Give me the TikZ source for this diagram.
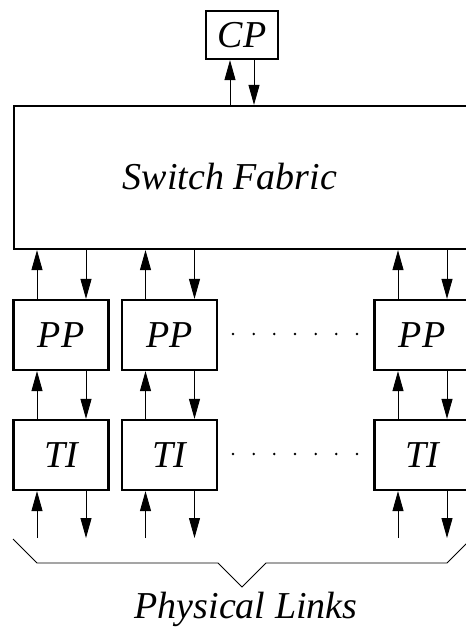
\documentclass[tikz,border=0pt]{standalone}
\usepackage{fontspec}
\setmainfont{Liberation Serif}[ItalicFont={Liberation Serif Italic}]
\newfontfamily\figfont{Liberation Serif Italic}
\usetikzlibrary{arrows.meta}
\begin{document}
\begin{tikzpicture}[x=1pt,y=-1pt,
  box/.style={draw, line width=2.2pt, inner sep=0pt, minimum width=95pt, minimum height=70pt,
    font=\fontsize{38}{40}\selectfont\figfont},
  arr/.style={line width=0.9pt, -{Triangle[length=20pt,width=11pt]}},
  bracepath/.style={line width=0.9pt},
  lbl/.style={font=\fontsize{38}{40}\selectfont\figfont, inner sep=0pt}]
\useasboundingbox (0,0) rectangle (465,628);
% boxes
\node[box, minimum width=72pt, minimum height=48pt] (cp) at (242,35) {CP};
\node[box, minimum width=456pt, minimum height=143pt] (sf) at (242,177.5) {};
\node[lbl, anchor=base] (sftext) at (230,190) {Switch Fabric};
\node[box] (pp1) at (61,335) {PP};
\node[box] (pp2) at (169.5,335) {PP};
\node[box] (pp3) at (422,335) {PP};
\node[box] (ti1) at (61,455) {TI};
\node[box] (ti2) at (169.5,455) {TI};
\node[box] (ti3) at (422,455) {TI};
% dots
\foreach \x in {233,253.7,274.3,295,315.7,336.3,357} {
  \fill (\x,334) circle (1.4pt);
  \fill (\x,454) circle (1.4pt);
}
% CP arrows
\draw[arr] ([xshift=-12pt]cp.south |- sf.north) -- ([xshift=-12pt]cp.south);
\draw[arr] ([xshift=12pt]cp.south) -- ([xshift=12pt]cp.south |- sf.north);
% base coordinate for physical links
\coordinate (base) at (0,538);
\foreach \n in {1,2,3} {
  \draw[arr] ([xshift=-24pt]pp\n.north) -- ([xshift=-24pt]pp\n.north |- sf.south);
  \draw[arr] ([xshift=25pt]pp\n.north |- sf.south) -- ([xshift=25pt]pp\n.north);
  \draw[arr] ([xshift=-24pt]ti\n.north) -- ([xshift=-24pt]pp\n.south);
  \draw[arr] ([xshift=25pt]pp\n.south) -- ([xshift=25pt]ti\n.north);
  \draw[arr] ([xshift=-24pt]ti\n.south |- base) -- ([xshift=-24pt]ti\n.south);
  \draw[arr] ([xshift=25pt]ti\n.south) -- ([xshift=25pt]ti\n.south |- base);
}
% brace
\coordinate (b1) at (13,539);
\coordinate (b2) at (37,563);
\coordinate (b3) at (218,563);
\coordinate (b4) at (242,587);
\coordinate (b5) at (266,563);
\coordinate (b6) at (447,563);
\coordinate (b7) at (471,539);
\draw[bracepath] (b1) -- (b2) -- (b3) -- (b4) -- (b5) -- (b6) -- (b7);
\node[lbl, anchor=base] (links) at (246,618) {Physical Links};
\end{tikzpicture}
\end{document}
